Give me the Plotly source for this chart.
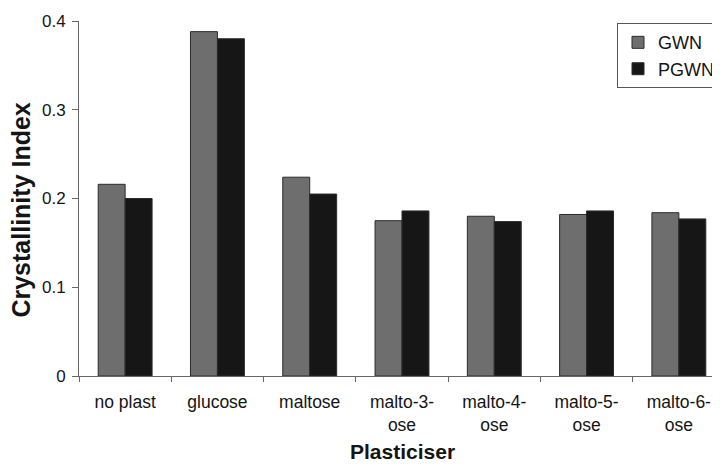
import plotly.graph_objects as go

categories = ["no plast", "glucose", "maltose", "malto-3-<br>ose", "malto-4-<br>ose", "malto-5-<br>ose", "malto-6-<br>ose"]
gwn = [0.216, 0.388, 0.224, 0.175, 0.180, 0.182, 0.184]
pgwn = [0.200, 0.380, 0.205, 0.186, 0.174, 0.186, 0.177]
series_names = ["GWN", "PGWN"]
y_ticks = [0, 0.1, 0.2, 0.3, 0.4]

FONT = "Liberation Sans, Arial, sans-serif"
TXT = "#141414"

fig = go.Figure()
fig.add_trace(go.Bar(x=categories, y=gwn, name=series_names[0],
                     marker=dict(color="#6e6e6e", line=dict(color="#2b2b2b", width=1))))
fig.add_trace(go.Bar(x=categories, y=pgwn, name=series_names[1],
                     marker=dict(color="#161616", line=dict(color="#2b2b2b", width=1))))

# the page body adds an 8px offset, so the figure is sized to fit the 720x464 window
fig.update_layout(
    width=712, height=456,
    margin=dict(l=71, r=0, t=13, b=88),
    paper_bgcolor="white", plot_bgcolor="white",
    barmode="group", bargap=0.416, bargroupgap=0,
    font=dict(family=FONT, size=17, color=TXT),
    legend=dict(x=0.841, y=0.994, xanchor="left", yanchor="top",
                bordercolor="#555555", borderwidth=1, bgcolor="white",
                font=dict(size=18, color=TXT), itemwidth=30,
                tracegroupgap=5),
    showlegend=True,
)
fig.update_xaxes(
    type="category", range=[-0.5, 6.435],
    showline=True, linecolor="#666666", linewidth=1,
    ticks="outside", tickson="boundaries", ticklen=5, tickcolor="#666666",
    showgrid=False, zeroline=False,
    tickfont=dict(size=17.5, color=TXT), ticklabelstandoff=10,
)
fig.update_yaxes(
    range=[0, 0.4], tickvals=y_ticks, ticktext=[str(v) for v in y_ticks],
    showline=True, linecolor="#666666", linewidth=1,
    ticks="outside", ticklen=6, tickcolor="#666666",
    showgrid=False, zeroline=False,
    tickfont=dict(size=17, color=TXT), ticklabelstandoff=3,
)
fig.add_annotation(text="<b>Plasticiser</b>", xref="paper", yref="paper",
                   x=0.505, y=-0.214, xanchor="center", yanchor="middle",
                   showarrow=False, font=dict(size=21, color=TXT))
fig.add_annotation(text="<b>Crystallinity Index</b>", xref="paper", yref="paper",
                   x=-0.0913, y=0.4676, xanchor="center", yanchor="middle",
                   textangle=-90, showarrow=False, font=dict(size=25, color=TXT))

fig.write_html("out.html")
